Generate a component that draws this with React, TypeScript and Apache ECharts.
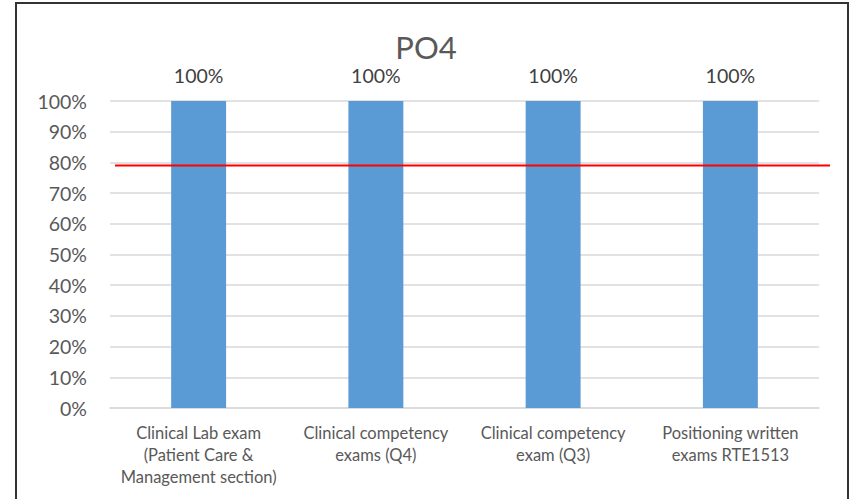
import React, { useEffect, useRef } from "react";
import * as echarts from "echarts";

const categories = [
  "Clinical Lab exam\n(Patient Care &\nManagement section)",
  "Clinical competency\nexams (Q4)",
  "Clinical competency\nexam (Q3)",
  "Positioning written\nexams RTE1513",
];
const values = [100, 100, 100, 100];
const benchmark = 79;
const yTicks = [0, 10, 20, 30, 40, 50, 60, 70, 80, 90, 100];

const FONT = "Lato, 'Open Sans', sans-serif";

export default function App() {
  const ref = useRef<HTMLDivElement>(null);
  useEffect(() => {
    const chart = echarts.init(ref.current!, null, { renderer: "svg" });
    chart.setOption({
      animation: false,
      backgroundColor: "#ffffff",
      title: {
        text: "PO4",
        left: "center",
        top: 26,
        textStyle: { fontFamily: FONT, fontSize: 31, fontWeight: "normal", color: "#595959" },
      },
      graphic: [
        {
          type: "rect",
          shape: { x: 16, y: 3, width: 832, height: 520 },
          style: { fill: "none", stroke: "#333333", lineWidth: 2 },
          silent: true,
        },
      ],
      grid: [
        { left: 110, right: 33, top: 101, bottom: 91, containLabel: false },
        { left: 115, right: 22, top: 101, bottom: 91, containLabel: false },
      ],
      xAxis: [
        {
          type: "category",
          gridIndex: 0,
          data: categories,
          axisTick: { show: false },
          axisLine: { lineStyle: { color: "#d9d9d9", width: 1.5 } },
          axisLabel: {
            fontFamily: FONT,
            fontSize: 16.5,
            lineHeight: 22,
            color: "#595959",
            margin: 14,
            interval: 0,
          },
        },
        { type: "value", gridIndex: 1, min: 0, max: 1, show: false },
      ],
      yAxis: [
        {
          type: "value",
          gridIndex: 0,
          min: 0,
          max: 100,
          interval: 10,
          axisLine: { show: false },
          axisTick: { show: false },
          splitLine: { lineStyle: { color: "#d9d9d9", width: 1.5 } },
          axisLabel: {
            fontFamily: FONT,
            fontSize: 19.5,
            color: "#595959",
            margin: 23,
            formatter: (v: number) => (yTicks.includes(v) ? v + "%" : ""),
          },
        },
        { type: "value", gridIndex: 1, min: 0, max: 100, show: false },
      ],
      series: [
        {
          type: "bar",
          xAxisIndex: 0,
          yAxisIndex: 0,
          data: values,
          barCategoryGap: "69%",
          itemStyle: { color: "#5B9BD5" },
          label: {
            show: true,
            position: "top",
            distance: 16,
            formatter: (p: any) => p.value + "%",
            fontFamily: FONT,
            fontSize: 19.5,
            color: "#404040",
          },
        },
        {
          type: "line",
          xAxisIndex: 1,
          yAxisIndex: 1,
          data: [
            [0, benchmark],
            [1, benchmark],
          ],
          symbol: "none",
          lineStyle: { color: "#ff0000", width: 2 },
          z: 5,
        },
      ],
    });
    return () => chart.dispose();
  }, []);
  return (
    <div
      ref={ref}
      style={{ position: "fixed", left: 0, top: 0, width: 852, height: 499 }}
    />
  );
}
